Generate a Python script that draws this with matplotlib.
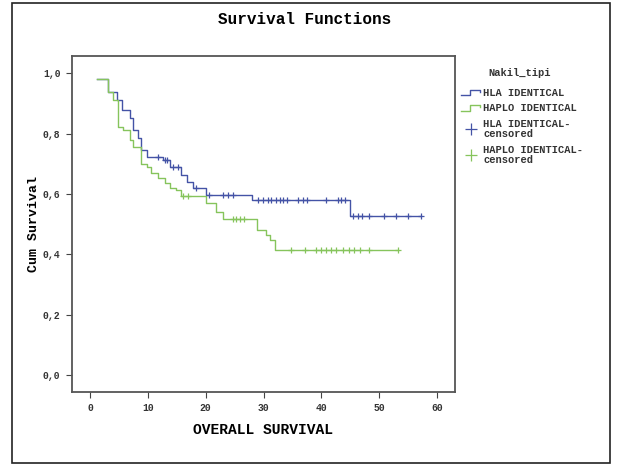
import matplotlib
matplotlib.use("Agg")
import matplotlib.pyplot as plt
from matplotlib.lines import Line2D
from matplotlib.patches import Rectangle
from matplotlib.legend_handler import HandlerBase

# ---- data ----
hla_times = [1.2, 3.2, 4.6, 5.5, 6.9, 7.5, 8.3, 8.9, 9.8, 12.6, 13.8, 15.8, 16.7, 17.8, 20.1, 28.0, 45.0, 57.2]
hla_surv = [0.980, 0.939, 0.911, 0.878, 0.851, 0.812, 0.784, 0.746, 0.723, 0.713, 0.690, 0.663, 0.641, 0.619, 0.598, 0.580, 0.527, 0.527]
hla_cens_t = [11.7, 13.0, 13.4, 14.4, 15.2, 18.4, 20.5, 23.0, 23.8, 24.7, 29.0, 29.9, 30.7, 31.3, 32.1, 32.8,
              33.3, 34.0, 35.9, 36.8, 37.6, 40.8, 42.8, 43.4, 44.0, 45.4, 46.3, 47.1, 48.3, 50.9, 52.9, 54.9, 57.2]

haplo_times = [1.2, 3.2, 4.0, 4.9, 5.7, 6.9, 7.5, 8.9, 9.8, 10.6, 11.8, 12.9, 13.8, 14.9, 15.8, 20.1, 21.8, 23.0,
               28.8, 30.5, 31.2, 32.0, 53.2]
haplo_surv = [0.980, 0.939, 0.911, 0.823, 0.812, 0.779, 0.757, 0.700, 0.690, 0.668, 0.652, 0.635, 0.619, 0.613,
              0.592, 0.569, 0.541, 0.516, 0.481, 0.464, 0.447, 0.414, 0.414]
haplo_cens_t = [16.1, 16.9, 24.7, 25.3, 25.9, 26.7, 34.8, 37.1, 39.1, 40.0, 40.8, 41.7, 42.5, 43.7, 44.8, 45.7,
                46.6, 48.3, 53.2]

group_labels = ["HLA IDENTICAL", "HAPLO IDENTICAL", "HLA IDENTICAL-\ncensored", "HAPLO IDENTICAL-\ncensored"]
legend_title = "Nakil_tipi"
x_ticks = [0, 10, 20, 30, 40, 50, 60]
y_ticks = [0.0, 0.2, 0.4, 0.6, 0.8, 1.0]
y_tick_labels = ["0,0", "0,2", "0,4", "0,6", "0,8", "1,0"]

BLUE = "#4453a6"
GREEN = "#86c45c"
FONT = "Liberation Mono"


def surv_at(times, surv, t):
    val = surv[0]
    for ti, si in zip(times, surv):
        if ti <= t:
            val = si
    return val


class StepHandler(HandlerBase):
    def create_artists(self, legend, orig_handle, xdescent, ydescent, width, height, fontsize, trans):
        x0, x1 = -xdescent, -xdescent + width
        xm = x0 + width * 0.45
        ylo, yhi = -ydescent + height * 0.1, -ydescent + height * 0.9
        ln = Line2D([x0, xm, xm, x1, x1], [ylo, ylo, yhi, yhi, yhi - height * 0.3],
                    color=orig_handle.get_color(), lw=orig_handle.get_linewidth(), transform=trans)
        return [ln]


W, H = 617, 466
fig = plt.figure(figsize=(W / 100, H / 100), dpi=100)
ax = fig.add_axes([71.7 / W, 1 - 391.7 / H, (455 - 71.7) / W, (391.7 - 56) / H])

ax.step(hla_times, hla_surv, where="post", color=BLUE, lw=1.0)
ax.step(haplo_times, haplo_surv, where="post", color=GREEN, lw=1.0)
ax.plot(hla_cens_t, [surv_at(hla_times, hla_surv, t) for t in hla_cens_t], ls="none",
        marker="+", ms=4, mew=0.9, color=BLUE)
ax.plot(haplo_cens_t, [surv_at(haplo_times, haplo_surv, t) for t in haplo_cens_t], ls="none",
        marker="+", ms=4, mew=0.9, color=GREEN)

ax.set_xlim(-3.16, 63.1)
ax.set_ylim(-0.055, 1.057)
ax.set_xticks(x_ticks)
ax.set_xticklabels([str(v) for v in x_ticks], fontfamily=FONT, fontsize=7, fontweight="bold", color="#333333")
ax.set_yticks(y_ticks)
ax.set_yticklabels(y_tick_labels, fontfamily=FONT, fontsize=7, fontweight="bold", color="#333333")
ax.tick_params(direction="out", length=4, width=0.8, color="#444444", pad=4)
for sp in ax.spines.values():
    sp.set_color("#555555")
    sp.set_linewidth(1.3)

ax.set_xlabel("OVERALL SURVIVAL", fontfamily=FONT, fontsize=10.5, fontweight="bold", labelpad=7)
ax.set_ylabel("Cum Survival", fontfamily=FONT, fontsize=9.5, fontweight="bold", labelpad=2)

fig.text(305 / W, 1 - 20 / H, "Survival Functions", ha="center", va="center",
         fontfamily=FONT, fontsize=11.5, fontweight="bold")

line_h1 = Line2D([0], [0], color=BLUE, lw=1.0)
line_h2 = Line2D([0], [0], color=GREEN, lw=1.0)
handles = [
    line_h1,
    line_h2,
    Line2D([0], [0], color=BLUE, ls="none", marker="+", ms=8, mew=0.9),
    Line2D([0], [0], color=GREEN, ls="none", marker="+", ms=8, mew=0.9),
]
leg = fig.legend(handles, group_labels, loc="upper left",
                 bbox_to_anchor=(457 / W, 1 - 84 / H), frameon=False,
                 prop={"family": FONT, "size": 7.5, "weight": "bold"},
                 handlelength=1.8, handletextpad=0.3, labelspacing=0.5, borderaxespad=0,
                 handler_map={line_h1: StepHandler(), line_h2: StepHandler()})
for t in leg.get_texts():
    t.set_linespacing(1.1)
    t.set_color("#333333")
fig.text(520 / W, 1 - 73 / H, legend_title, ha="center", va="center",
         fontfamily=FONT, fontsize=7.5, fontweight="bold", color="#333333")

fig.patches.append(Rectangle((12 / W, 1 - 463 / H), (610 - 12) / W, (463 - 3) / H,
                             transform=fig.transFigure, fill=False, ec="#222222", lw=1.2))

fig.savefig("out.png", dpi=100)
